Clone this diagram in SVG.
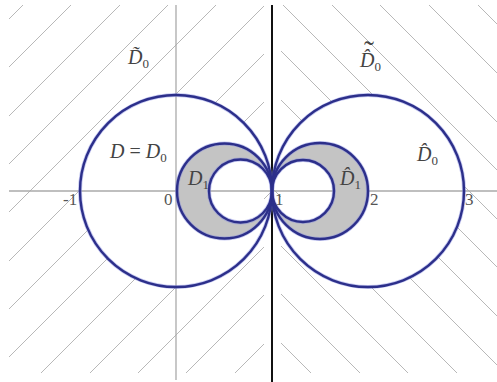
<svg xmlns="http://www.w3.org/2000/svg" width="497" height="382" viewBox="0 0 497 382">
<style>
.hatch line{stroke:#b8b8b8;stroke-width:1}
.axis{stroke:#aaaaaa;stroke-width:1.3;fill:none}
.circ{fill:none;stroke:#2c2f8a;stroke-width:2.4}
.glow{fill:none;stroke:#7f86e0;stroke-width:4;opacity:0.45}
.ann{fill:#c4c4c4;fill-rule:evenodd}
.lbl{font-size:20px;fill:#444}
.it{font-style:italic}
.sub{font-size:13px}
.num{font-size:17px;fill:#555}
</style>
<defs>
<clipPath id="clipL"><path clip-rule="evenodd" d="M9 5 H264 V373 H9 Z M80 191 A96 96 0 1 0 272 191 A96 96 0 1 0 80 191 Z"/></clipPath>
<clipPath id="clipR"><path clip-rule="evenodd" d="M281 5 H497 V373 H281 Z M272 191 A96 96 0 1 0 464 191 A96 96 0 1 0 272 191 Z"/></clipPath>
</defs>
<rect width="497" height="382" fill="#ffffff"/>
<g id="hatch-left" class="hatch" clip-path="url(#clipL)">
<line x1="28" y1="0" x2="-372" y2="400"/>
<line x1="76" y1="0" x2="-324" y2="400"/>
<line x1="125" y1="0" x2="-275" y2="400"/>
<line x1="173" y1="0" x2="-227" y2="400"/>
<line x1="221" y1="0" x2="-179" y2="400"/>
<line x1="270" y1="0" x2="-130" y2="400"/>
<line x1="318" y1="0" x2="-82" y2="400"/>
<line x1="366" y1="0" x2="-34" y2="400"/>
<line x1="414" y1="0" x2="14" y2="400"/>
<line x1="463" y1="0" x2="63" y2="400"/>
<line x1="511" y1="0" x2="111" y2="400"/>
<line x1="559" y1="0" x2="159" y2="400"/>
<line x1="608" y1="0" x2="208" y2="400"/>
</g>
<g id="hatch-right" class="hatch" clip-path="url(#clipR)">
<line x1="-62" y1="0" x2="338" y2="400"/>
<line x1="-13" y1="0" x2="387" y2="400"/>
<line x1="35" y1="0" x2="435" y2="400"/>
<line x1="84" y1="0" x2="484" y2="400"/>
<line x1="132" y1="0" x2="532" y2="400"/>
<line x1="181" y1="0" x2="581" y2="400"/>
<line x1="230" y1="0" x2="630" y2="400"/>
<line x1="278" y1="0" x2="678" y2="400"/>
<line x1="327" y1="0" x2="727" y2="400"/>
<line x1="375" y1="0" x2="775" y2="400"/>
<line x1="424" y1="0" x2="824" y2="400"/>
<line x1="473" y1="0" x2="873" y2="400"/>
</g>
<g id="axes">
<line class="axis" x1="9" y1="191" x2="497" y2="191"/>
<line class="axis" x1="176" y1="5" x2="176" y2="380"/>
<line x1="272" y1="5" x2="272" y2="382" stroke="#111" stroke-width="2"/>
</g>
<g id="annulus-left">
<path class="ann" d="M177 191 A47.5 47.5 0 1 0 272 191 A47.5 47.5 0 1 0 177 191 Z M209 191 A31.5 31.5 0 1 0 272 191 A31.5 31.5 0 1 0 209 191 Z"/>
</g>
<g id="annulus-right">
<path class="ann" d="M272 191 A48 48 0 1 0 368 191 A48 48 0 1 0 272 191 Z M272 191 A31 31 0 1 0 334 191 A31 31 0 1 0 272 191 Z"/>
</g>
<g id="circles">
<circle class="glow" cx="176" cy="191" r="96"/>
<circle class="glow" cx="368" cy="191" r="96"/>
<circle class="glow" cx="224.5" cy="191" r="47.5"/>
<circle class="glow" cx="240.5" cy="191" r="31.5"/>
<circle class="glow" cx="320" cy="191" r="48"/>
<circle class="glow" cx="303" cy="191" r="31"/>
<circle class="circ" cx="176" cy="191" r="96"/>
<circle class="circ" cx="368" cy="191" r="96"/>
<circle class="circ" cx="224.5" cy="191" r="47.5"/>
<circle class="circ" cx="240.5" cy="191" r="31.5"/>
<circle class="circ" cx="320" cy="191" r="48"/>
<circle class="circ" cx="303" cy="191" r="31"/>
</g>
<g id="ticks" font-family="'Liberation Serif', 'Times New Roman', 'DejaVu Serif', serif">
<text class="num" x="63" y="205">-1</text>
<text class="num" x="164" y="205">0</text>
<text class="num" x="275" y="205">1</text>
<text class="num" x="370" y="205">2</text>
<text class="num" x="465" y="205">3</text>
</g>
<g id="labels" font-family="'Liberation Serif', 'Times New Roman', 'DejaVu Serif', serif">
<g id="label-D-tilde">
<text class="lbl" x="128" y="64"><tspan class="it">D̃</tspan><tspan class="sub" dy="4">0</tspan></text>
</g>
<g id="label-D-eq">
<text class="lbl" x="110" y="158"><tspan class="it">D</tspan> = <tspan class="it">D</tspan><tspan class="sub" dy="4">0</tspan></text>
</g>
<g id="label-D1">
<text class="lbl" x="188" y="185"><tspan class="it">D</tspan><tspan class="sub" dy="4">1</tspan></text>
</g>
<g id="label-D1-hat">
<text class="lbl" x="340" y="185"><tspan class="it">D̂</tspan><tspan class="sub" dy="4">1</tspan></text>
</g>
<g id="label-D0-hat">
<text class="lbl" x="417" y="161"><tspan class="it">D̂</tspan><tspan class="sub" dy="4">0</tspan></text>
</g>
<g id="label-D0-hat-tilde">
<text class="lbl" x="360" y="67"><tspan class="it">D̂</tspan><tspan class="sub" dy="4">0</tspan><tspan x="369" y="61" font-size="30" text-anchor="middle">˜</tspan></text>
</g>
</g>
</svg>
